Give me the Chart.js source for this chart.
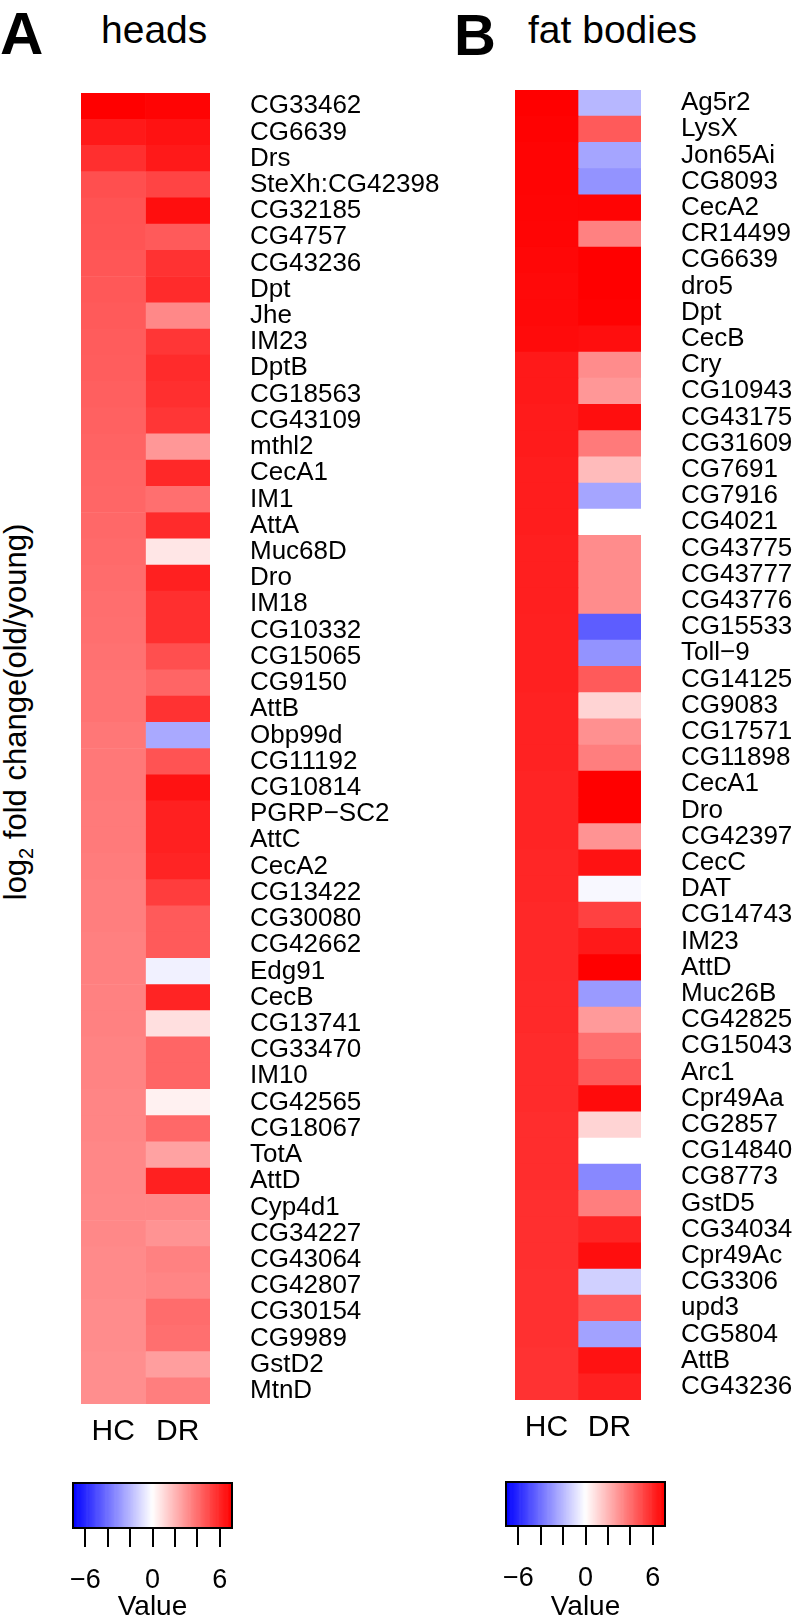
<!DOCTYPE html>
<html>
<head>
<meta charset="utf-8">
<script src="https://cdn.jsdelivr.net/npm/chart.js@4.4.1/dist/chart.umd.min.js"></script>
<style>
  body { margin: 0; background: #fff; width: 796px; height: 1618px; position: relative; overflow: hidden; font-family: "Liberation Sans", Arial, sans-serif; }
  canvas { position: absolute; }
  .txt { position: absolute; white-space: nowrap; color: #000; }
</style>
</head>
<body>
<div class="txt" style="left:0px;top:4px;font:bold 60px/60px 'Liberation Sans'">A</div>
<div class="txt" style="left:101px;top:10px;font:39px/39px 'Liberation Sans'">heads</div>
<div class="txt" style="left:454px;top:6px;font:bold 58px/58px 'Liberation Sans'">B</div>
<div class="txt" style="left:528px;top:10px;font:39px/39px 'Liberation Sans'">fat bodies</div>
<div class="txt" id="ylab" style="left:21px;top:712px;font:31px/31px 'Liberation Sans';transform:translate(-50%,-50%) rotate(-90deg)">log<sub style="font-size:20px">2</sub> fold change(old/young)</div>

<canvas id="heatA" width="480" height="1464" style="left:0px;top:0px"></canvas>
<canvas id="heatB" width="396" height="1460" style="left:400px;top:0px"></canvas>
<canvas id="keyA" width="300" height="178" style="left:0px;top:1440px"></canvas>
<canvas id="keyB" width="396" height="178" style="left:400px;top:1440px"></canvas>

<script>
// heads (panel A)
var genesA = ['CG33462','CG6639','Drs','SteXh:CG42398','CG32185','CG4757','CG43236','Dpt','Jhe','IM23',
  'DptB','CG18563','CG43109','mthl2','CecA1','IM1','AttA','Muc68D','Dro','IM18',
  'CG10332','CG15065','CG9150','AttB','Obp99d','CG11192','CG10814','PGRP\u2212SC2','AttC','CecA2',
  'CG13422','CG30080','CG42662','Edg91','CecB','CG13741','CG33470','IM10','CG42565','CG18067',
  'TotA','AttD','Cyp4d1','CG34227','CG43064','CG42807','CG30154','CG9989','GstD2','MtnD'];
var hcA = [7.1, 6.4, 5.8, 4.9, 4.8, 4.75, 4.7, 4.65, 4.6, 4.55,
  4.5, 4.45, 4.4, 4.35, 4.3, 4.25, 4.2, 4.15, 4.1, 4.05,
  4.0, 3.95, 3.9, 3.9, 3.8, 3.75, 3.75, 3.7, 3.7, 3.65,
  3.6, 3.6, 3.55, 3.55, 3.5, 3.5, 3.45, 3.45, 3.4, 3.4,
  3.35, 3.35, 3.3, 3.3, 3.25, 3.25, 3.2, 3.2, 3.15, 3.15];
var drA = [7.0, 6.6, 6.4, 5.2, 6.7, 4.6, 5.7, 5.9, 3.3, 5.6,
  5.9, 5.8, 5.6, 2.9, 6.0, 4.0, 5.9, 0.7, 6.2, 5.8,
  5.8, 4.9, 4.3, 5.7, -2.4, 4.8, 6.6, 6.2, 6.2, 6.1,
  5.4, 4.6, 4.6, -0.4, 6.1, 0.9, 4.3, 4.3, 0.4, 4.2,
  2.6, 6.2, 3.3, 3.0, 3.5, 3.4, 4.1, 4.0, 2.7, 3.6];

// fat bodies (panel B)
var genesB = ['Ag5r2','LysX','Jon65Ai','CG8093','CecA2','CR14499','CG6639','dro5','Dpt','CecB',
  'Cry','CG10943','CG43175','CG31609','CG7691','CG7916','CG4021','CG43775','CG43777','CG43776',
  'CG15533','Toll\u22129','CG14125','CG9083','CG17571','CG11898','CecA1','Dro','CG42397','CecC',
  'DAT','CG14743','IM23','AttD','Muc26B','CG42825','CG15043','Arc1','Cpr49Aa','CG2857',
  'CG14840','CG8773','GstD5','CG34034','Cpr49Ac','CG3306','upd3','CG5804','AttB','CG43236'];
var hcB = [7.1, 7.05, 7.0, 7.0, 6.95, 6.95, 6.9, 6.85, 6.85, 6.8,
  6.4, 6.4, 6.35, 6.35, 6.3, 6.3, 6.3, 6.25, 6.25, 6.25,
  6.2, 6.2, 6.2, 6.15, 6.15, 6.15, 6.1, 6.1, 6.1, 6.05,
  6.05, 6.0, 6.0, 6.0, 5.95, 5.95, 5.9, 5.9, 5.9, 5.85,
  5.85, 5.85, 5.8, 5.8, 5.8, 5.75, 5.75, 5.75, 5.7, 5.7];
var drB = [-2.0, 4.6, -2.5, -3.0, 7.0, 3.5, 7.1, 7.1, 7.05, 6.7,
  3.2, 2.9, 6.7, 3.7, 1.9, -2.5, 0.0, 3.2, 3.2, 3.2,
  -4.5, -3.0, 4.6, 1.2, 3.1, 3.6, 7.1, 7.1, 3.0, 6.6,
  -0.2, 5.3, 6.4, 7.1, -2.8, 2.8, 4.0, 4.6, 6.8, 1.2,
  0.0, -3.3, 3.6, 6.1, 6.7, -1.3, 4.7, -2.6, 6.6, 6.2];

var colNames = ['HC', 'DR'];
var keyTicks = [-6, -4, -2, 0, 2, 4, 6];
var keyTickLabels = ['\u22126', '', '', '0', '', '', '6'];
var valueMax = 7.1;

var fontFamily = "'Liberation Sans', Arial, sans-serif";

// blue - white - red
function heatColor(v) {
  var t = Math.min(Math.abs(v) / valueMax, 1);
  var c = Math.round(255 * (1 - t));
  return v >= 0 ? 'rgb(255,' + c + ',' + c + ')' : 'rgb(' + c + ',' + c + ',255)';
}

function heatmap(id, genes, hc, dr, padLeft, padTop, yWidth) {
  var ctx = document.getElementById(id).getContext('2d');
  return new Chart(ctx, {
    type: 'bar',
    data: {
      labels: genes,
      datasets: [hc, dr].map(function(vals, j) {
        return {
          label: colNames[j],
          data: vals.map(function() { return [j, j + 1]; }),
          backgroundColor: vals.map(heatColor),
          borderWidth: 0,
          barPercentage: 1,
          categoryPercentage: 1,
          grouped: false
        };
      })
    },
    options: {
      animation: false,
      responsive: false,
      devicePixelRatio: 1,
      indexAxis: 'y',
      layout: { padding: { left: padLeft, top: padTop, right: 0, bottom: 0 } },
      plugins: { legend: { display: false }, tooltip: { enabled: false } },
      scales: {
        x: {
          type: 'linear', min: 0, max: 2,
          grid: { display: false, drawTicks: false },
          border: { display: false },
          afterBuildTicks: function(s) { s.ticks = colNames.map(function(n, i) { return { value: i + 0.5 }; }); },
          afterFit: function(s) { s.height = 60; },
          ticks: {
            callback: function(v, i) { return colNames[i]; },
            font: { size: 30, family: fontFamily }, color: '#000',
            padding: 10, maxRotation: 0, autoSkip: false
          }
        },
        y: {
          type: 'category', position: 'right',
          grid: { display: false, drawTicks: false },
          border: { display: false },
          afterFit: function(s) { s.width = yWidth; },
          ticks: { font: { size: 26, family: fontFamily }, color: '#000', padding: 40, autoSkip: false }
        }
      }
    }
  });
}

var frame = {
  id: 'frame',
  afterDraw: function(chart) {
    var a = chart.chartArea, c = chart.ctx;
    c.save();
    c.strokeStyle = '#000';
    c.lineWidth = 2;
    c.strokeRect(a.left, a.top, a.right - a.left, a.bottom - a.top);
    c.restore();
  }
};

// colour key steps
var keySteps = [];
for (var k = 0; k < 142; k++) keySteps.push(-7.05 + k * 0.1);

function colorKey(id, padLeft, padRight, padTop, xHeight) {
  var ctx = document.getElementById(id).getContext('2d');
  return new Chart(ctx, {
    type: 'bar',
    data: {
      datasets: [{
        data: keySteps.map(function(v) { return { x: v, y: 1 }; }),
        backgroundColor: keySteps.map(heatColor),
        borderWidth: 0,
        barPercentage: 1,
        categoryPercentage: 1
      }]
    },
    options: {
      animation: false,
      responsive: false,
      devicePixelRatio: 1,
      layout: { padding: { left: padLeft, right: padRight, top: padTop, bottom: 0 } },
      plugins: { legend: { display: false }, tooltip: { enabled: false } },
      scales: {
        x: {
          type: 'linear', min: -valueMax, max: valueMax, offset: false,
          grid: { display: true, drawOnChartArea: false, drawTicks: true, tickLength: 19, color: '#000', lineWidth: 2, offset: false },
          border: { display: false },
          afterBuildTicks: function(s) { s.ticks = keyTicks.map(function(v) { return { value: v }; }); },
          afterFit: function(s) { s.height = xHeight; },
          ticks: {
            callback: function(v, i) { return keyTickLabels[i]; },
            font: { size: 27, family: fontFamily }, color: '#000',
            padding: 17, maxRotation: 0, autoSkip: false
          },
          title: {
            display: true, text: 'Value', color: '#000',
            font: { size: 28, family: fontFamily, lineHeight: 0.8 },
            padding: { top: 0, bottom: 0 }
          }
        },
        y: { min: 0, max: 1, display: false }
      }
    },
    plugins: [frame]
  });
}

heatmap('heatA', genesA, hcA, drA, 81, 93, 270);
heatmap('heatB', genesB, hcB, drB, 115, 90, 155);
colorKey('keyA', 73, 68, 43, 90);
colorKey('keyB', 106, 131, 42, 92);
</script>
</body>
</html>
